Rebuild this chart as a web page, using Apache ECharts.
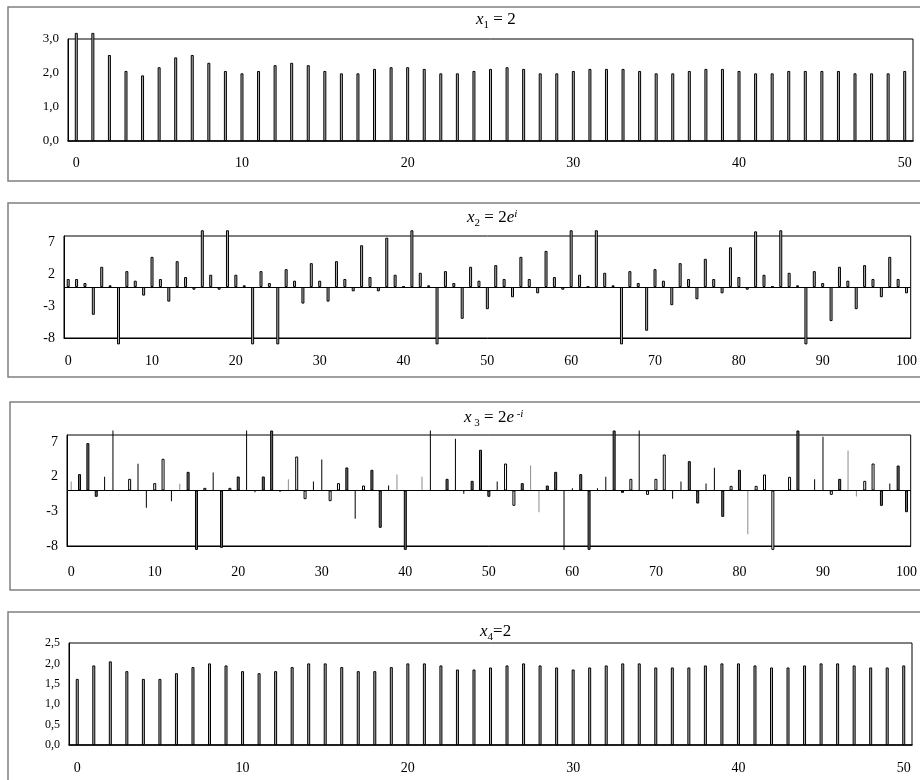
<!DOCTYPE html>
<html>
<head>
<meta charset="utf-8">
<script src="https://cdn.jsdelivr.net/npm/echarts/dist/echarts.min.js"></script>
<style>
  html, body { margin: 0; padding: 0; background: #fff; }
  #chart { width: 920px; height: 780px; }
</style>
</head>
<body>
<div id="chart"></div>
<script>
// values (bars that leave the plot are kept at their visible length)
const x1 = [3.18, 3.18, 2.53, 2.06, 1.93, 2.17, 2.46, 2.53, 2.30, 2.06,
    1.99, 2.06, 2.23, 2.30, 2.23, 2.06, 1.99, 1.99, 2.12, 2.17,
    2.17, 2.12, 1.99, 1.99, 2.06, 2.12, 2.17, 2.12, 1.99, 1.99,
    2.06, 2.12, 2.12, 2.12, 2.06, 1.99, 1.99, 2.06, 2.12, 2.12,
    2.06, 1.99, 1.99, 2.06, 2.06, 2.06, 2.06, 1.99, 1.99, 1.99,
    2.06];

const x2 = [1.25, 1.25, 0.62, -4.36, 3.17, 0.26, -9.0, 2.49, 0.99, -1.35,
    4.73, 1.25, -2.29, 4.05, 1.56, -0.42, 8.9, 1.92, -0.42, 8.9,
    1.92, 0.26, -9.0, 2.49, 0.62, -9.0, 2.8, 0.99, -2.6, 3.74,
    0.99, -2.29, 4.05, 1.25, -0.68, 6.55, 1.56, -0.68, 7.74, 1.92,
    0.05, 8.9, 2.23, 0.26, -9.0, 2.49, 0.62, -4.99, 3.17, 0.99,
    -3.48, 3.43, 1.25, -1.61, 4.73, 1.25, -0.99, 5.66, 1.56, -0.42,
    8.9, 1.92, 0.05, 8.9, 2.23, 0.26, -9.0, 2.49, 0.62, -6.86,
    2.8, 0.99, -2.86, 3.74, 1.25, -1.92, 4.42, 1.25, -0.99, 6.23,
    1.56, -0.42, 8.73, 1.92, 0.05, 8.9, 2.23, 0.26, -9.0, 2.49,
    0.62, -5.35, 3.17, 0.99, -3.48, 3.43, 1.25, -1.61, 4.73, 1.25,
    -0.99];

const x3 = [1.3, 2.36, 6.83, -0.91, 1.97, 8.65, 0.05, 1.68, 3.85, -2.5,
    1.06, 4.57, -1.54, 0.96, 2.69, -8.56, 0.38, 2.6, -8.27, 0.38,
    2.02, 8.65, -0.24, 2.02, 8.65, -0.2, 1.63, 4.9, -1.25, 1.3,
    4.47, -1.54, 1.06, 3.32, -4.09, 0.72, 2.98, -5.38, 0.72, 2.31,
    -8.56, -0.05, 1.97, 8.65, 0.05, 1.68, 7.45, -0.48, 1.39, 5.87,
    -0.91, 1.3, 3.89, -2.21, 1.06, 3.6, -3.13, 0.72, 2.69, -8.56,
    0.34, 2.36, -8.56, 0.34, 1.97, 8.65, -0.34, 1.68, 8.65, -0.63,
    1.68, 5.19, -1.2, 1.3, 4.23, -1.88, 1.01, 3.27, -3.8, 0.67,
    2.98, -6.3, 0.67, 2.31, -8.56, 0.02, 1.97, 8.65, 0.05, 1.63,
    7.74, -0.63, 1.68, 5.77, -0.87, 1.39, 3.89, -2.21, 1.01, 3.6,
    -3.13];

const x4 = [1.62, 1.95, 2.05, 1.81, 1.62, 1.62, 1.76, 1.91, 2.0, 1.95,
    1.81, 1.76, 1.81, 1.91, 2.0, 2.0, 1.91, 1.81, 1.81, 1.91,
    2.0, 2.0, 1.95, 1.85, 1.85, 1.90, 1.95, 2.0, 1.95, 1.90,
    1.85, 1.90, 1.95, 2.0, 2.0, 1.90, 1.90, 1.90, 1.95, 2.0,
    2.0, 1.95, 1.90, 1.90, 1.95, 2.0, 2.0, 1.95, 1.90, 1.90,
    1.95];

// how each bar of the third panel is drawn: d = dark bar, o = open bar, t = black line, g = grey line
const x3Look = [
    'gdddtttott', 'ootgddotdo', 'dttddtgoot', 'toodtoddtg', 'dtgttdttdd',
    'dtoodggddt', 'tddttddoto', 'oottddttdo', 'dgoootodtt', 'todggoodtdd'
].join('');

const cats50 = x1.map((v, i) => String(i));
const cats100 = x2.map((v, i) => String(i));

const y1Labels = ['0,0', '1,0', '2,0', '3,0'];
const y23Labels = ['-8', '-3', '2', '7'];
const y4Labels = ['0,0', '0,5', '1,0', '1,5', '2,0', '2,5'];

const serif = 'Liberation Serif';

const yAx = (grid, min, max, interval, labels, size) => ({
    type: 'value',
    gridIndex: grid,
    min: min,
    max: max,
    interval: interval,
    splitLine: {show: false},
    axisTick: {show: false},
    axisLine: {show: true, lineStyle: {color: '#000', width: 1}},
    axisLabel: {
        color: '#000',
        fontFamily: serif,
        fontSize: size,
        margin: 9,
        formatter: (v) => {
            const k = (v - min) / interval;
            if (Math.abs(k - Math.round(k)) > 1e-6) return '';
            return labels[Math.round(k)] ?? '';
        }
    }
});

const xAx = (grid, data, margin, width, show) => ({
    type: 'category',
    gridIndex: grid,
    data: data,
    show: show,
    axisTick: {show: false},
    axisLine: {onZero: false, lineStyle: {color: '#000', width: width}},
    axisLabel: {interval: 9, color: '#000', fontFamily: serif, fontSize: 14, margin: margin}
});

const barStyle = {color: '#b0b0b0', borderColor: '#000', borderWidth: 1};

const zeroLine = {
    silent: true,
    symbol: 'none',
    label: {show: false},
    lineStyle: {color: '#000', type: 'solid', width: 1},
    data: [{yAxis: 0}]
};

const looks = {
    d: {color: '#6e6e6e', borderColor: '#000', borderWidth: 1},
    o: {color: '#fff', borderColor: '#000', borderWidth: 1},
    t: {color: '#000'},
    g: {color: '#8c8c8c'}
};
const x3Thick = x3.map((v, i) => 'do'.includes(x3Look[i]) ? {value: v, itemStyle: looks[x3Look[i]]} : '-');
const x3Thin = x3.map((v, i) => 'tg'.includes(x3Look[i]) ? {value: v, itemStyle: looks[x3Look[i]]} : '-');

// subscripts pushed down with top padding, superscripts pinned to the line top
const rich = {
    v: {fontFamily: serif, fontStyle: 'italic', fontWeight: 'normal', fontSize: 17, lineHeight: 18, color: '#000'},
    n: {fontFamily: serif, fontWeight: 'normal', fontSize: 17, lineHeight: 18, color: '#000'},
    s: {fontFamily: serif, fontWeight: 'normal', fontSize: 11, lineHeight: 11, padding: [10, 0, 0, 0], color: '#000'},
    p: {fontFamily: serif, fontStyle: 'italic', fontWeight: 'normal', fontSize: 11, lineHeight: 11, verticalAlign: 'top', color: '#000'}
};
const ttl = (text, left, top) => ({
    text: text, left: left, top: top, padding: 0,
    textStyle: {fontWeight: 'normal', rich: rich}
});

const box = (x, y, h) => ({
    type: 'rect',
    z: -1,
    shape: {x: x, y: y, width: 940, height: h},
    style: {fill: 'none', stroke: '#808080', lineWidth: 1.5}
});

const chart = echarts.init(document.getElementById('chart'));

chart.setOption({
    animation: false,
    backgroundColor: '#fff',
    graphic: [box(8, 7, 174), box(8, 203, 174), box(10, 402, 188), box(8, 612, 200)],
    title: [
        ttl('{v|x}{s|1}{n| = 2}', 476, 11),
        ttl('{v|x}{s|2}{n| = 2}{v|e}{p|i}', 467, 209),
        ttl('{v|x}{s| 3}{n| = 2}{v|e}{p| -i}', 464, 409),
        ttl('{v|x}{s|4}{n|=2}', 480, 623)
    ],
    grid: [
        {left: 68, top: 39, width: 845, height: 102, show: true, borderColor: '#000', borderWidth: 1},
        {left: 64, top: 236, width: 849, height: 102, show: true, borderColor: '#000', borderWidth: 1},
        {left: 67, top: 435, width: 845, height: 111, show: true, borderColor: '#000', borderWidth: 1},
        {left: 69, top: 643, width: 843, height: 102, show: true, borderColor: '#000', borderWidth: 1}
    ],
    xAxis: [
        xAx(0, cats50, 15, 1.5, true),
        xAx(1, cats100, 16, 1, true),
        xAx(2, cats100, 19, 1, true),
        xAx(2, cats100, 19, 1, false),
        xAx(3, cats50, 16, 1.5, true)
    ],
    yAxis: [
        yAx(0, 0, 3, 1, y1Labels, 13),
        yAx(1, -8, 8, 5, y23Labels, 14),
        yAx(2, -8, 8, 5, y23Labels, 14),
        yAx(3, 0, 2.5, 0.5, y4Labels, 12)
    ],
    series: [
        {type: 'bar', xAxisIndex: 0, yAxisIndex: 0, data: x1, barWidth: 3, clip: false, silent: true, itemStyle: barStyle},
        {type: 'bar', xAxisIndex: 1, yAxisIndex: 1, data: x2, barWidth: 3, clip: false, silent: true, itemStyle: barStyle, markLine: zeroLine},
        {type: 'bar', xAxisIndex: 2, yAxisIndex: 2, data: x3Thick, barWidth: 3, clip: false, silent: true, markLine: zeroLine},
        {type: 'bar', xAxisIndex: 3, yAxisIndex: 2, data: x3Thin, barWidth: 1, clip: false, silent: true},
        {type: 'bar', xAxisIndex: 4, yAxisIndex: 3, data: x4, barWidth: 3, clip: false, silent: true, itemStyle: barStyle}
    ]
});
</script>
</body>
</html>
